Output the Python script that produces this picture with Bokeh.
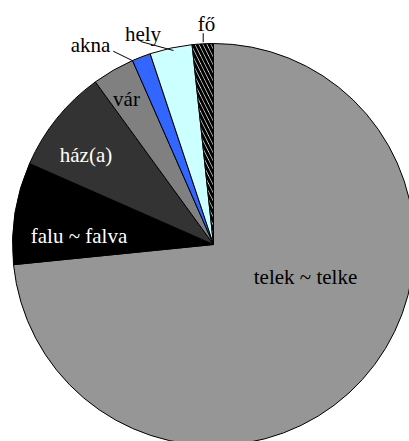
import math
from bokeh.plotting import figure
from bokeh.models import Range1d, ColumnDataSource
from bokeh.embed import file_html
from bokeh.resources import INLINE
from bokeh.core.properties import value

# Data (shares, clockwise from 12 o'clock)
categories = ["telek ~ telke", "falu ~ falva", "ház(a)", "vár", "akna", "hely", "fő"]
shares = [73.4, 8.2, 8.4, 3.4, 1.5, 3.4, 1.7]

colors = ["#969696", "#000000", "#333333", "#808080", "#3366ff", "#ccffff", "#ffffff"]
hatches = [None, None, None, None, None, None, "\\"]
text_colors = ["black", "white", "white", "black", "black", "black", "black"]

W, H = 409, 441
CX, CY, R = 213, 197, 201

# label anchors (layout): x center, baseline y
label_xy = [(305, 165), (78.5, 206), (85.5, 287), (126, 343), (90, 397), (142.5, 408), (206, 418)]
leaders = {"akna": ((112.7, 390.3), (131.7, 381)),
           "hely": ((140, 400), (173, 391)),
           "fő": ((202.7, 408.3), (202.7, 399.3))}

total = sum(shares)
starts, ends = [], []
cum = 0.0
for s in shares:
    a = cum / total * 2 * math.pi
    cum += s
    b = cum / total * 2 * math.pi
    starts.append(math.pi / 2 - b)
    ends.append(math.pi / 2 - a)

p = figure(width=W, height=H, x_range=Range1d(0, W), y_range=Range1d(0, H),
           output_backend="svg", toolbar_location=None, min_border=0)
p.axis.visible = False
p.grid.visible = False
p.outline_line_color = None
p.background_fill_color = "white"

for i in range(len(shares)):
    kw = {}
    if hatches[i]:
        kw = dict(hatch_pattern=hatches[i], hatch_color="black", hatch_scale=8, hatch_weight=3)
    p.wedge(x=CX, y=CY, radius=R, start_angle=starts[i], end_angle=ends[i],
            fill_color=colors[i], line_color="black", line_width=1, **kw)

src = ColumnDataSource(dict(x=[xy[0] for xy in label_xy], y=[xy[1] for xy in label_xy],
                            t=categories, c=text_colors))
p.text(x="x", y="y", text="t", text_color="c", source=src, text_align="center",
       text_baseline="alphabetic", text_font=value("Liberation Serif"),
       text_font_size="21px")

for k, ((x0, y0), (x1, y1)) in leaders.items():
    p.line([x0, x1], [y0, y1], line_color="black", line_width=1)

open("out.html", "w").write(file_html(p, INLINE))
